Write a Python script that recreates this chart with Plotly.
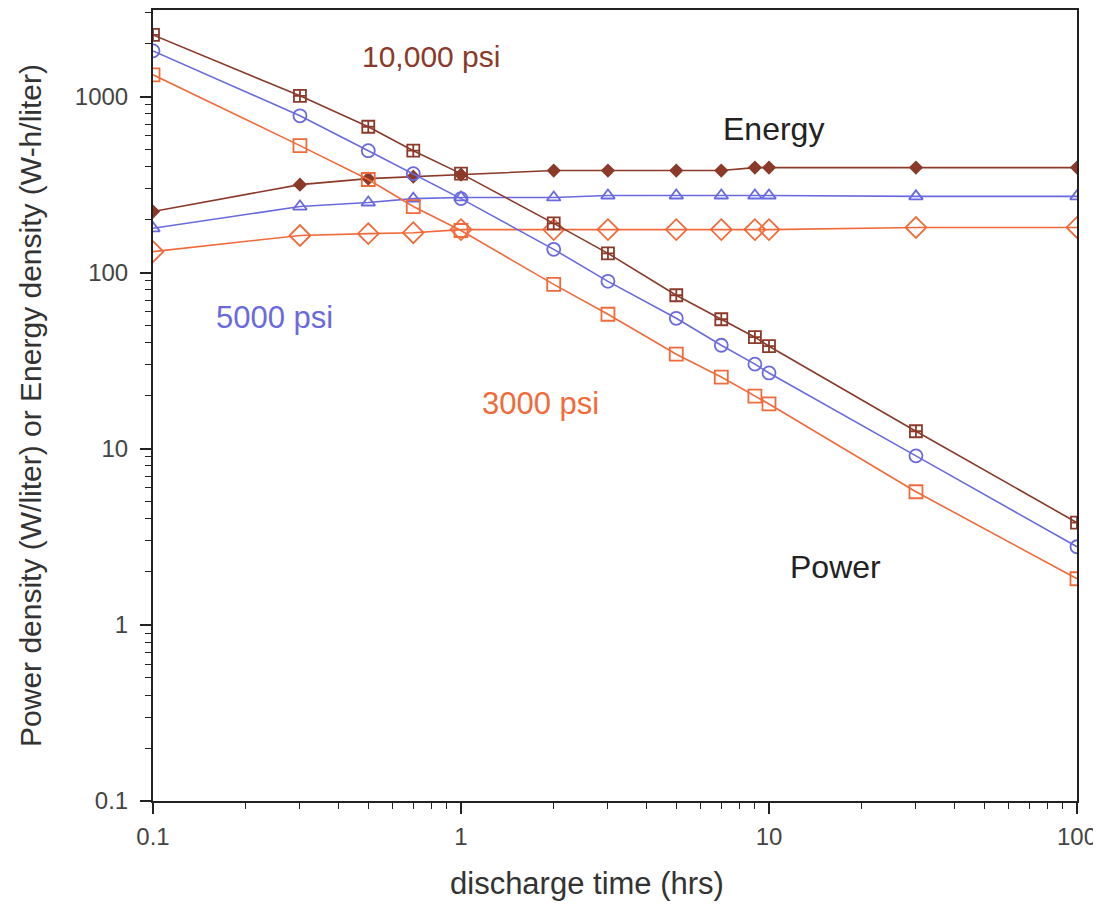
import plotly.graph_objects as go

hours = [0.1, 0.3, 0.5, 0.7, 1, 2, 3, 5, 7, 9, 10, 30, 100]

power_10000 = [2245, 1013, 676, 494, 366, 191, 129, 74.6, 54.5, 43.1, 38.3, 12.6, 3.81]
power_5000 = [1823, 780, 494, 366, 264, 136, 89.5, 55.2, 38.8, 30.3, 27.0, 9.13, 2.78]
power_3000 = [1333, 528, 339, 238, 174, 86, 58.2, 34.5, 25.6, 19.95, 18.0, 5.71, 1.83]

energy_10000 = [223, 317, 343, 352, 361, 381, 381, 381, 381, 396, 396, 396, 396]
energy_5000 = [179, 238, 251, 264, 268, 268, 275, 275, 275, 275, 275, 272, 272]
energy_3000 = [132, 163, 167, 169, 176, 176, 176, 176, 176, 176, 176, 181, 181]

x_tickvals = [0.1, 1, 10, 100]
x_ticktext = ["0.1", "1", "10", "100"]
y_tickvals = [0.1, 1, 10, 100, 1000]
y_ticktext = ["0.1", "1", "10", "100", "1000"]
x_minor = [m * d for d in [0.1, 1, 10] for m in range(2, 10)]
y_minor = [m * d for d in [0.1, 1, 10, 100, 1000] for m in range(2, 10)]

BROWN = "#8b3a2a"
BLUE = "#6a6ae0"
ORANGE = "#f26a3a"
FONT = "Liberation Sans, Arial, sans-serif"

fig = go.Figure()

def add(y, color, symbol, size, width=1.8):
    fig.add_trace(go.Scatter(
        x=hours, y=y, mode="lines+markers",
        line=dict(color=color, width=1.6),
        marker=dict(symbol=symbol, size=size, color=color,
                    line=dict(color=color, width=width)),
        showlegend=False,
    ))

add(energy_3000, ORANGE, "diamond-open", 16)
add(energy_5000, BLUE, "triangle-up-open", 12)
add(energy_10000, BROWN, "diamond", 11, 0)
add(power_3000, ORANGE, "square-open", 13)
add(power_5000, BLUE, "circle-open", 13)
add(power_10000, BROWN, "square-cross-open", 12)

annos = [
    ("10,000 psi", 0.301, 0.941, BROWN, 30),
    ("Energy", 0.672, 0.849, "#222222", 32),
    ("5000 psi", 0.132, 0.611, BLUE, 31),
    ("3000 psi", 0.419, 0.503, ORANGE, 31),
    ("Power", 0.739, 0.296, "#222222", 32),
]
for txt, xp, yp, col, sz in annos:
    fig.add_annotation(x=xp, y=yp, xref="paper", yref="paper", text=txt, showarrow=False,
                       font=dict(color=col, size=sz, family=FONT),
                       xanchor="center", yanchor="middle")

# x-axis title (placed slightly left of centre, as in the reference)
fig.add_annotation(x=0.470, y=-0.1037, xref="paper", yref="paper", text="discharge time (hrs)",
                   showarrow=False, font=dict(size=31, color="#333333", family=FONT),
                   xanchor="center", yanchor="middle")

def axis_common(minor_vals, standoff):
    return dict(
        showline=True, linecolor="#222222", linewidth=2, mirror=True,
        ticks="outside", ticklen=11, tickwidth=1.5, tickcolor="#222222",
        showgrid=False, zeroline=False, automargin=False,
        ticklabelstandoff=standoff,
        tickfont=dict(size=24, color="#444444", family=FONT),
        minor=dict(ticks="outside", ticklen=6, tickwidth=1.2, tickcolor="#222222",
                   showgrid=False, tickmode="array", tickvals=minor_vals),
    )

fig.update_xaxes(type="log", range=[-1, 2], tickvals=x_tickvals, ticktext=x_ticktext,
                 **axis_common(x_minor, 2))
fig.update_yaxes(type="log", range=[-1, 3.493], tickvals=y_tickvals, ticktext=y_ticktext,
                 title=dict(text="Power density (W/liter) or Energy density (W-h/liter)",
                            font=dict(size=30, color="#333333", family=FONT), standoff=24),
                 **axis_common(y_minor, 7))

fig.update_layout(
    width=1093, height=898,
    margin=dict(l=145, r=24, t=2, b=105),
    paper_bgcolor="white", plot_bgcolor="white",
)

fig.write_html("out.html")
